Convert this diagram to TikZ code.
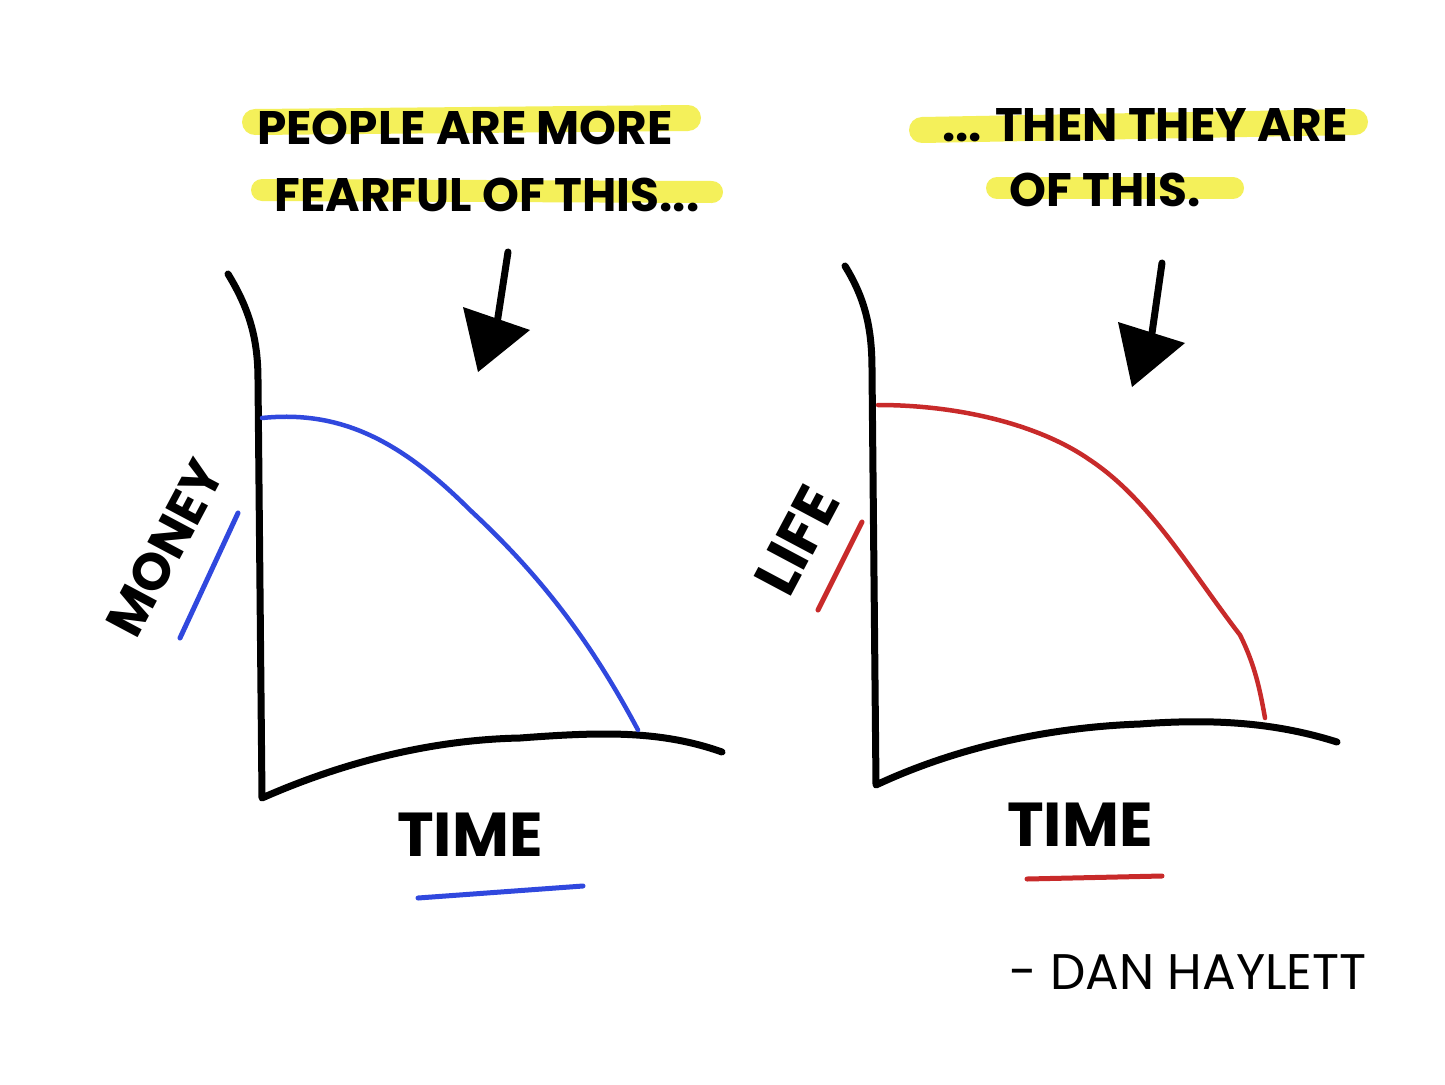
\documentclass[tikz,border=0pt]{standalone}
\usepackage{fontspec}
\setmainfont{Poppins}
\definecolor{hl}{RGB}{244,240,90}
\definecolor{penblue}{RGB}{48,72,222}
\definecolor{penred}{RGB}{200,42,42}
\tikzset{
  axisline/.style={line width=7pt, line cap=round, line join=round, black},
  hlband/.style={line width=26pt, line cap=round, hl},
  curveblue/.style={line width=4.5pt, line cap=round, penblue},
  curvered/.style={line width=4.5pt, line cap=round, penred},
  headline/.style={font=\fontsize{47}{50}\selectfont\bfseries, inner sep=0pt},
  axlabel/.style={font=\fontsize{52}{56}\selectfont\bfseries, inner sep=0pt},
  arrowshaft/.style={line width=7pt, line cap=round},
}
\begin{document}
\begin{tikzpicture}[x=1pt,y=-1pt]
\useasboundingbox (0,0) rectangle (1445,1084);
\fill[white] (0,0) rectangle (1445,1084);
% highlights
\draw[hlband] (255,122) -- (688,118);
\draw[hlband, line width=22pt] (262,190) -- (712,192);
\draw[hlband] (922,130) -- (1355,122);
\draw[hlband, line width=22pt] (997,188) -- (1233,188);
% headings
\node[headline] (t1) at (465,128) {PEOPLE ARE MORE};
\node[headline] (t2) at (487,195) {FEARFUL OF THIS...};
\node[headline] (t3) at (1145,125) {... THEN THEY ARE};
\node[headline] (t4) at (1105,190) {OF THIS.};
% arrows
\coordinate (a1s) at (508,252);
\coordinate (a1e) at (496,330);
\draw[arrowshaft] (a1s) -- (a1e);
\fill (463,307) -- (530,330) -- (478,372) -- cycle;
\coordinate (a2s) at (1162,263);
\coordinate (a2e) at (1151,340);
\draw[arrowshaft] (a2s) -- (a2e);
\fill (1118,322) -- (1185,343) -- (1132,387) -- cycle;
% left axes
\draw[axisline] (228,274) .. controls (250,310) and (258,340) .. (258,380)
  -- (262,798) .. controls (330,768) and (420,740) .. (520,738)
  .. controls (600,732) and (660,730) .. (722,752);
\draw[curveblue] (262,418) .. controls (340,410) and (400,440) .. (470,510)
  .. controls (540,575) and (590,640) .. (638,730);
\node[axlabel, rotate=62] (money) at (165,548) {MONEY};
\draw[curveblue, line width=5pt] (180,638) -- (238,513);
\node[axlabel, font=\fontsize{62}{66}\selectfont\bfseries] (time1) at (470,835) {TIME};
\draw[curveblue, line width=5pt] (418,898) -- (583,886);
% right axes
\draw[axisline] (845,266) .. controls (866,300) and (872,330) .. (872,370)
  -- (876,785) .. controls (940,755) and (1030,728) .. (1140,724)
  .. controls (1220,718) and (1280,724) .. (1337,742);
\draw[curvered] (878,405) .. controls (960,405) and (1040,425) .. (1090,460)
  .. controls (1150,500) and (1190,570) .. (1240,635)
  .. controls (1255,665) and (1260,690) .. (1265,718);
\node[axlabel, rotate=62, font=\fontsize{60}{64}\selectfont\bfseries] (life) at (797,540) {LIFE};
\draw[curvered, line width=5pt] (818,610) -- (862,522);
\node[axlabel, font=\fontsize{62}{66}\selectfont\bfseries] (time2) at (1080,825) {TIME};
\draw[curvered, line width=5pt] (1027,879) -- (1162,876);
% signature
\node[font=\fontsize{50}{54}\selectfont, inner sep=0pt] (sig) at (1188,972) {- DAN HAYLETT};
\end{tikzpicture}
\end{document}
